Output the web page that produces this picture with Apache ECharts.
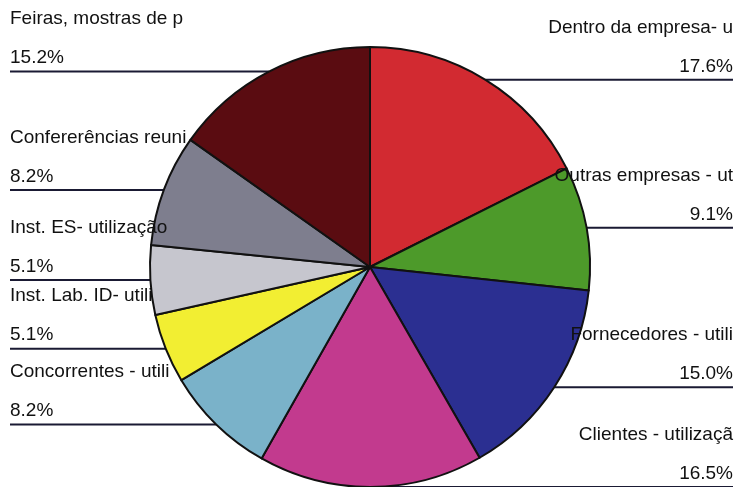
<!DOCTYPE html>
<html>
<head>
<meta charset="utf-8">
<script src="https://cdn.jsdelivr.net/npm/echarts@6/dist/echarts.min.js"></script>
<style>
html,body{margin:0;padding:0;background:#fff;}
#chart{width:736px;height:487px;}
</style>
</head>
<body>
<div id="chart"></div>
<script>
const categories = [
  "Dentro da empresa- u",
  "Outras empresas - ut",
  "Fornecedores - utili",
  "Clientes - utilizaçã",
  "Concorrentes - utili",
  "Inst. Lab. ID- utili",
  "Inst. ES- utilização",
  "Confererências reuni",
  "Feiras, mostras de p"
];
const values = [17.6, 9.1, 15.0, 16.5, 8.2, 5.1, 5.1, 8.2, 15.2];
const colors = ["#d22a31", "#4d9a2a", "#2b2f91", "#c23a8e", "#7ab2c9", "#f2ee32", "#c6c6ce", "#7e7e8e", "#5a0c11"];

const CX = 370, CY = 267, R = 220;
const LEFT_EDGE = 10, RIGHT_EDGE = 733;

const chart = echarts.init(document.getElementById('chart'), null, {renderer: 'canvas'});
chart.setOption({
  backgroundColor: '#ffffff',
  animation: false,
  series: [{
    type: 'pie',
    center: [CX, CY],
    radius: R,
    startAngle: 90,
    clockwise: true,
    avoidLabelOverlap: false,
    data: categories.map((c, i) => ({name: c, value: values[i], itemStyle: {color: colors[i]}})),
    itemStyle: {borderColor: '#111111', borderWidth: 2},
    label: {
      show: true,
      position: 'outside',
      formatter: p => p.name + '\n' + values[p.dataIndex].toFixed(1) + '%',
      fontFamily: 'Liberation Sans, Arial, sans-serif',
      fontSize: 19,
      lineHeight: 39,
      color: '#111111'
    },
    labelLine: {
      show: true,
      length: 0,
      length2: 0,
      smooth: false,
      lineStyle: {color: '#1a1a33', width: 2}
    },
    emphasis: {disabled: true},
    labelLayout: function (p) {
      const pts = p.labelLinePoints;
      if (!pts) return {};
      const x0 = pts[0][0], y0 = pts[0][1];
      const right = x0 >= CX - 1;
      const edgeX = right ? RIGHT_EDGE : LEFT_EDGE;
      return {
        x: edgeX,
        y: y0 - 33,
        align: right ? 'right' : 'left',
        verticalAlign: 'middle',
        labelLinePoints: [[x0, y0], [x0, y0], [edgeX, y0]]
      };
    }
  }]
});
</script>
</body>
</html>
